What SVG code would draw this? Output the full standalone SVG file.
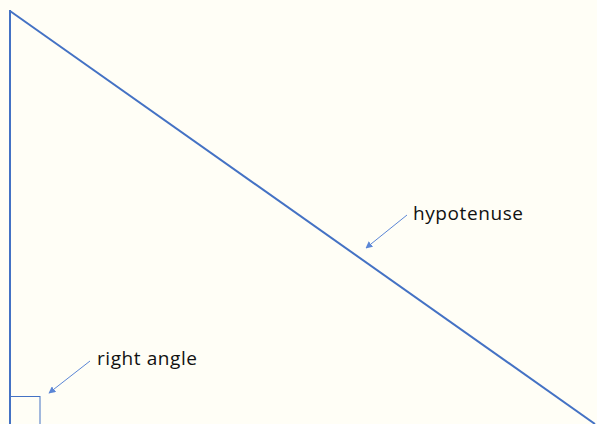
<svg xmlns="http://www.w3.org/2000/svg" width="597" height="424" viewBox="0 0 597 424">
<defs>
<style>
.edge{stroke:#4472C4;stroke-width:2;fill:none}
.thin{stroke:#4472C4;stroke-width:1;fill:none}
.ptr{stroke:#5B86D6;stroke-width:1;fill:none;marker-end:url(#ah)}
.lbl{font-family:"Open Sans","Liberation Sans",sans-serif;font-size:19px;fill:#111}
</style>
<marker id="ah" viewBox="0 0 10 10" refX="9" refY="5" markerWidth="7" markerHeight="7" markerUnits="userSpaceOnUse" orient="auto">
<path d="M0,0 L10,5 L0,10 z" fill="#5B86D6"/>
</marker>
</defs>
<rect width="597" height="424" fill="#FFFEF6"/>
<g id="triangle">
<line class="edge" x1="10" y1="10" x2="10" y2="424"/>
<line class="edge" x1="10" y1="11" x2="595" y2="424"/>
</g>
<g id="square">
<rect class="thin" x="10" y="396.5" width="30" height="30"/>
</g>
<g id="connectors">
<line class="ptr" x1="407" y1="215" x2="366" y2="248"/>
<line class="ptr" x1="90" y1="361" x2="49" y2="393"/>
</g>
<g id="hypotenuse-label">
<text class="lbl" x="413" y="220" textLength="110">hypotenuse</text>
</g>
<g id="right-angle-label">
<text class="lbl" x="97" y="365" textLength="100">right angle</text>
</g>
</svg>
